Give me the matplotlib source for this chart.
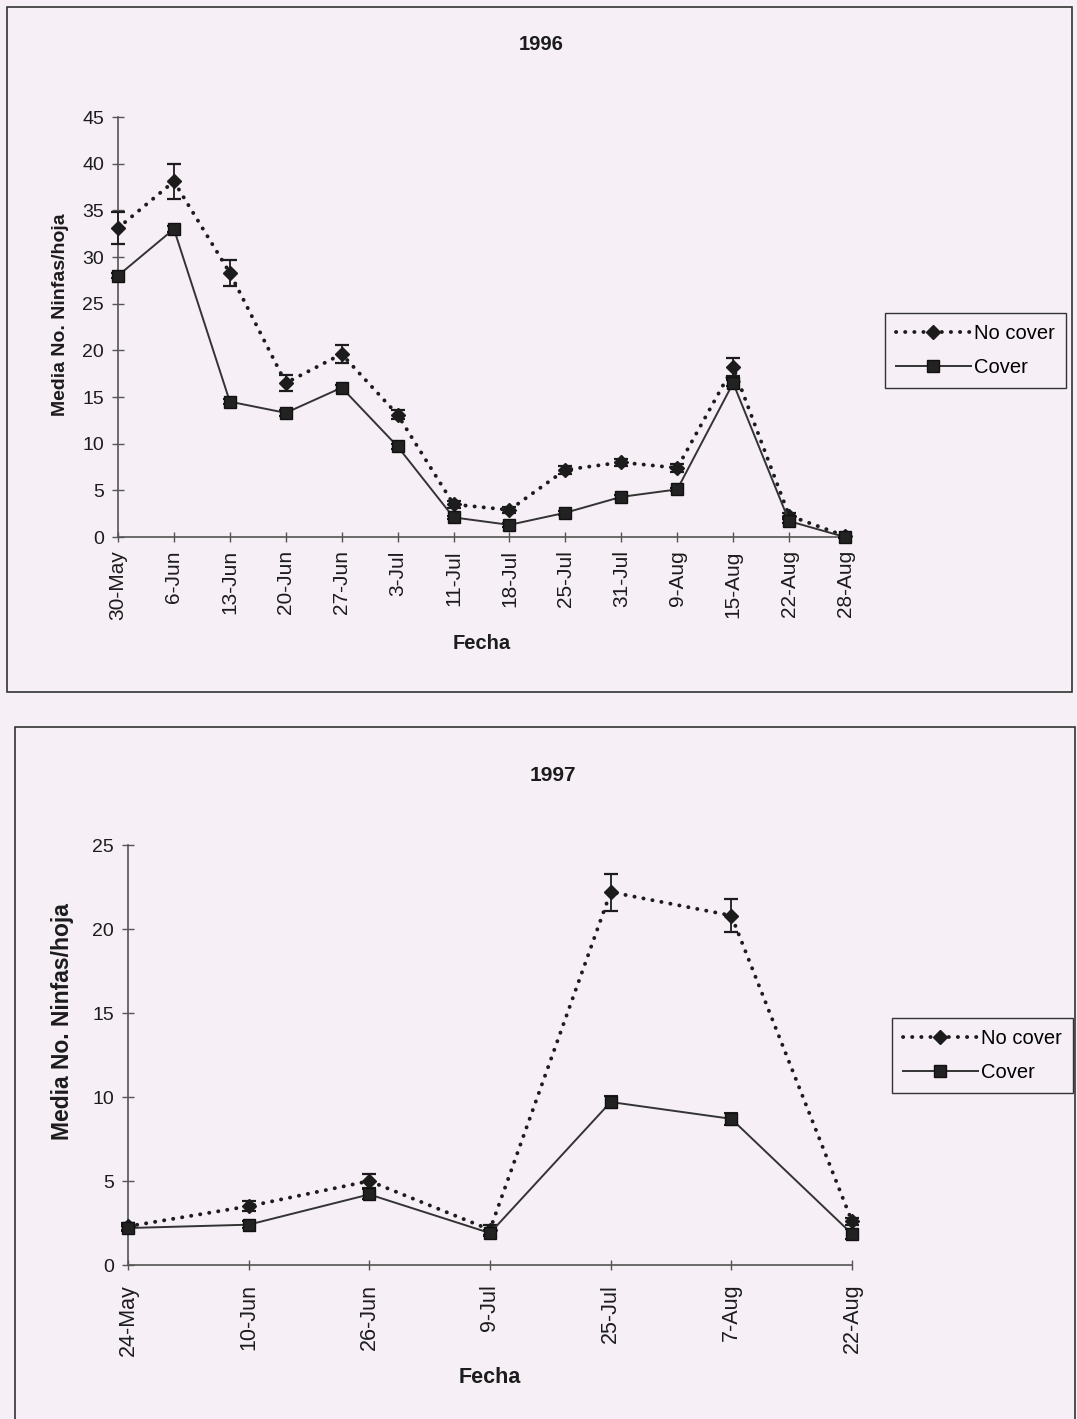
import matplotlib
matplotlib.use("Agg")
import matplotlib.pyplot as plt
from matplotlib.patches import Rectangle
from matplotlib.lines import Line2D

plt.rcParams["font.family"] = ["Liberation Sans", "DejaVu Sans"]

# 1996
fechas_96 = ["30-May", "6-Jun", "13-Jun", "20-Jun", "27-Jun", "3-Jul", "11-Jul",
             "18-Jul", "25-Jul", "31-Jul", "9-Aug", "15-Aug", "22-Aug", "28-Aug"]
nocover_96 = [33.1, 38.1, 28.3, 16.5, 19.6, 13.1, 3.5, 2.9, 7.2, 8.0, 7.4, 18.2, 2.3, 0.1]
nocover_96_err = [1.7, 1.9, 1.4, 0.9, 1.0, 0.5, 0.4, 0.3, 0.4, 0.4, 0.4, 1.0, 0.3, 0.1]
cover_96 = [28.0, 33.0, 14.5, 13.3, 16.0, 9.7, 2.1, 1.3, 2.6, 4.3, 5.1, 16.5, 1.7, 0.0]
cover_96_err = [0.3, 0.3, 0.3, 0.3, 0.3, 0.3, 0.2, 0.2, 0.2, 0.2, 0.2, 0.3, 0.2, 0.1]

# 1997
fechas_97 = ["24-May", "10-Jun", "26-Jun", "9-Jul", "25-Jul", "7-Aug", "22-Aug"]
nocover_97 = [2.3, 3.5, 5.0, 2.1, 22.2, 20.8, 2.6]
nocover_97_err = [0.2, 0.3, 0.4, 0.3, 1.1, 1.0, 0.2]
cover_97 = [2.2, 2.4, 4.2, 1.9, 9.7, 8.7, 1.85]
cover_97_err = [0.2, 0.2, 0.3, 0.2, 0.35, 0.35, 0.3]

BG = "#f6eff6"
INK = "#1c1c1c"
AXC = "#555555"
DOTS = (0, (0.05, 2.3))

fig = plt.figure(figsize=(10.77, 14.19), dpi=100, facecolor=BG)
W, H = 1077, 1419


def fx(px):
    return px / W


def fy(py):
    return 1 - py / H


# marcos de cada panel
fig.patches.append(Rectangle((fx(7), fy(692)), fx(1072 - 7), (692 - 7) / H,
                             transform=fig.transFigure, fill=False, ec="#333333", lw=1.2))
fig.patches.append(Rectangle((fx(15), fy(1440)), fx(1075 - 15), (1440 - 727) / H,
                             transform=fig.transFigure, fill=False, ec="#333333", lw=1.2))


def panel(ax, fechas, nc, nc_err, cv, cv_err, ymax, ystep, tick_fs, pad_x):
    x = list(range(len(fechas)))
    ax.errorbar(x, nc, yerr=nc_err, color=INK, ls=DOTS, lw=2.8,
                dash_capstyle="round", marker="D", ms=7.5, mfc=INK, mec=INK,
                ecolor=INK, elinewidth=1.3, capsize=5, capthick=1.6, zorder=3)
    ax.errorbar(x, cv, yerr=cv_err, color="#333333", ls="-", lw=1.4,
                marker="s", ms=9, mfc="#222222", mec="#111111",
                ecolor=INK, elinewidth=1.2, capsize=5, capthick=1.5, zorder=4)
    ax.set_xlim(0, len(fechas) - 1)
    ax.set_ylim(0, ymax)
    ax.set_xticks(x)
    ax.set_xticklabels(fechas, rotation=90, fontsize=tick_fs, color=INK)
    ax.set_yticks(range(0, ymax + 1, ystep))
    ax.tick_params(axis="y", direction="inout", length=8, width=1.0, color=AXC,
                   labelsize=14, labelcolor=INK, pad=6)
    ax.tick_params(axis="x", direction="inout", length=7, width=1.0, color=AXC,
                   pad=pad_x)
    for s in ("top", "right"):
        ax.spines[s].set_visible(False)
    for s in ("left", "bottom"):
        ax.spines[s].set_color(AXC)
        ax.spines[s].set_linewidth(1.2)
    ax.set_facecolor("none")
    for a in ax.lines:
        a.set_clip_on(False)
    for c in ax.collections:
        c.set_clip_on(False)


def leyenda(ax, x0, y0):
    handles = [
        Line2D([], [], color=INK, ls=DOTS, lw=2.8, dash_capstyle="round",
               marker="D", ms=7.5, mfc=INK, mec=INK),
        Line2D([], [], color="#333333", ls="-", lw=1.4,
               marker="s", ms=9, mfc="#222222", mec="#111111"),
    ]
    leg = ax.legend(handles, ["No cover", "Cover"], loc="upper left",
                    bbox_to_anchor=(fx(x0), fy(y0)), bbox_transform=fig.transFigure,
                    fontsize=14.5, handlelength=3.7, handletextpad=0.15,
                    labelspacing=0.75, borderpad=0.55, borderaxespad=0,
                    frameon=True, fancybox=False, numpoints=1)
    fr = leg.get_frame()
    fr.set_edgecolor("#333333")
    fr.set_facecolor(BG)
    fr.set_alpha(1)
    fr.set_linewidth(1.0)
    return leg


ax1 = fig.add_axes([fx(118), fy(537), fx(845 - 118), (537 - 117) / H])
panel(ax1, fechas_96, nocover_96, nocover_96_err, cover_96, cover_96_err, 45, 5, 15, 6)
ax1.set_ylabel("Media No. Ninfas/hoja", fontsize=14, fontweight="bold", color=INK)
ax1.yaxis.set_label_coords(-0.068, 0.53)
ax1.set_xlabel("Fecha", fontsize=14.5, fontweight="bold", color=INK, labelpad=10)
fig.text(fx(541), fy(45), "1996", fontsize=14.5, fontweight="bold", color=INK,
         ha="center", va="center")
leyenda(ax1, 885, 313)

ax2 = fig.add_axes([fx(128), fy(1265), fx(852 - 128), (1265 - 845) / H])
panel(ax2, fechas_97, nocover_97, nocover_97_err, cover_97, cover_97_err, 25, 5, 15.5, 10)
ax2.set_ylabel("Media No. Ninfas/hoja", fontsize=16.5, fontweight="bold", color=INK)
ax2.yaxis.set_label_coords(-0.074, 0.58)
ax2.set_xlabel("Fecha", fontsize=15.5, fontweight="bold", color=INK, labelpad=8)
fig.text(fx(553), fy(775), "1997", fontsize=15, fontweight="bold", color=INK,
         ha="center", va="center")
leyenda(ax2, 892, 1018)

fig.savefig("out.png", dpi=100, facecolor=BG)
